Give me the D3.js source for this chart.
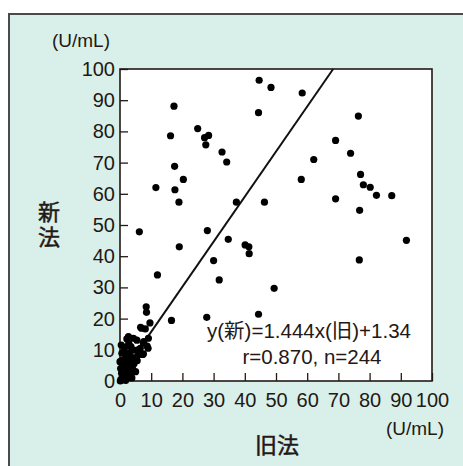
<!DOCTYPE html>
<html>
<head>
<meta charset="utf-8">
<script src="https://cdn.jsdelivr.net/npm/d3@7"></script>
<style>
  body { margin: 0; background: #fff; }
  text { font-family: "Liberation Sans", Arial, "Noto Sans CJK JP", sans-serif; fill: #231815; }
  .cjk { font-family: "Noto Sans CJK JP", sans-serif; stroke: #231815; stroke-width: 0.5; }
</style>
</head>
<body>
<script>
// Dimensions
const width = 463, height = 466;
const plot = { left: 120, top: 69, size: 312 };

// Tick labels (both axes)
const ticks = [0, 10, 20, 30, 40, 50, 60, 70, 80, 90, 100];

// Regression: y(new) = 1.444 x(old) + 1.34
const slope = 1.444, intercept = 1.34;

// Old method values (x) and new method values (y)
const oldVals = [
  17.3, 16.2, 17.5, 20.3, 11.5, 17.6, 18.9, 24.9, 27.1, 28.4, 27.5, 32.7, 34.2,
  44.6, 48.4, 58.4, 44.4, 76.4, 69.1, 73.9, 62.1, 77.1, 58.1, 78.0, 80.2, 82.2,
  87.1, 69.1, 76.8, 37.3, 46.3, 34.7, 40.1, 41.3, 41.4, 91.8, 76.7, 31.8, 49.4,
  44.4, 6.2, 28.0, 19.0, 30.0, 12.0, 8.4, 8.5, 16.5, 27.8,
  // cluster near the origin
  0.3, 0.8, 1.5, 0.5, 1.2, 2.0, 2.5, 0.2, 1.0, 2.0, 3.0, 3.5, 4.0, 0.5, 1.5,
  2.5, 3.2, 4.5, 5.0, 5.5, 0.6, 1.2, 2.2, 3.0, 4.4, 4.0, 6.0, 7.3, 6.5, 9.0,
  7.6, 5.4, 2.2, 2.8, 4.3, 2.7, 7.5, 9.1, 8.1, 6.9, 9.6, 3.5, 1.5, 0.4, 0.0,
  1.6, 0.1, 1.8, 3.8, 5.8, 6.6, 8.7, 7.5, 0.9, 2.6
];
const newVals = [
  88.1, 78.6, 68.8, 64.6, 62.0, 61.3, 57.3, 80.9, 78.0, 78.7, 75.7, 73.4, 70.2,
  96.4, 94.1, 92.3, 86.0, 84.9, 77.1, 73.0, 71.0, 66.2, 64.6, 62.9, 62.1, 59.5,
  59.4, 58.4, 54.7, 57.3, 57.3, 45.4, 43.6, 43.0, 40.8, 45.1, 38.8, 32.4, 29.7,
  21.4, 47.8, 48.2, 43.0, 38.6, 34.0, 23.8, 22.0, 19.4, 20.4,
  // cluster near the origin
  0.5, 1.2, 0.8, 2.5, 3.0, 2.0, 1.0, 4.0, 5.0, 4.5, 3.5, 2.0, 4.0, 6.5, 7.0,
  6.0, 5.5, 5.5, 3.0, 6.5, 8.9, 9.5, 8.0, 9.0, 9.9, 7.5, 8.5, 8.5, 10.5, 10.5,
  12.6, 13.1, 13.5, 12.1, 13.7, 14.2, 12.1, 13.7, 16.7, 16.9, 18.6, 11.0, 10.8, 11.5, 6.2,
  9.0, 0.0, 0.2, 1.0, 10.0, 17.2, 11.2, 8.7, 3.8, 7.8
];

const svg = d3.select("body")
      .append("svg")
      .attr("width", width)
      .attr("height", height);

// Mint panel with frame (runs off the right and bottom edges)
svg.append("rect")
    .attr("x", 9).attr("y", 14)
    .attr("width", width + 10).attr("height", height + 10)
    .attr("fill", "#d9f0ea")
    .attr("stroke", "#4a4a4a")
    .attr("stroke-width", 2);

const x = d3.scaleLinear().domain([0, 100]).range([plot.left, plot.left + plot.size]);
const y = d3.scaleLinear().domain([0, 100]).range([plot.top + plot.size, plot.top]);

// Plot area
svg.append("rect")
    .attr("x", plot.left).attr("y", plot.top)
    .attr("width", plot.size).attr("height", plot.size)
    .attr("fill", "#fff");

// Axes: inward ticks
const xAxis = svg.append("g")
    .attr("transform", `translate(0,${plot.top + plot.size})`)
    .call(d3.axisBottom(x).tickValues(ticks).tickSizeInner(-8).tickSizeOuter(0).tickPadding(12));
const yAxis = svg.append("g")
    .attr("transform", `translate(${plot.left},0)`)
    .call(d3.axisLeft(y).tickValues(ticks).tickSizeInner(-8).tickSizeOuter(0).tickPadding(5));

[xAxis, yAxis].forEach(a => {
    a.select(".domain").remove();
    a.selectAll(".tick line").attr("stroke", "#231815").attr("stroke-width", 1.3);
    a.selectAll(".tick text").attr("font-size", 20).attr("fill", "#231815")
        .attr("font-family", "'Liberation Sans', Arial, sans-serif");
});
xAxis.selectAll(".tick text").attr("dy", "0.71em");

// Plot frame
svg.append("rect")
    .attr("x", plot.left).attr("y", plot.top)
    .attr("width", plot.size).attr("height", plot.size)
    .attr("fill", "none")
    .attr("stroke", "#231815")
    .attr("stroke-width", 1.6);

// Regression line
const xEnd = (100 - intercept) / slope;
svg.append("line")
    .attr("x1", x(0)).attr("y1", y(intercept))
    .attr("x2", x(xEnd)).attr("y2", y(100))
    .attr("stroke", "#111")
    .attr("stroke-width", 2);

// Points
svg.append("g")
    .selectAll("circle")
    .data(d3.zip(oldVals, newVals))
    .enter().append("circle")
    .attr("cx", d => x(d[0]))
    .attr("cy", d => y(d[1]))
    .attr("r", 3.6)
    .attr("fill", "#000");

// Unit labels
svg.append("text").attr("x", 81).attr("y", 47)
    .attr("text-anchor", "middle").attr("font-size", 19).text("(U/mL)");
svg.append("text").attr("x", 444).attr("y", 435)
    .attr("text-anchor", "end").attr("font-size", 19).text("(U/mL)");

// Axis titles
svg.append("text").attr("class", "cjk").attr("x", 277).attr("y", 453)
    .attr("text-anchor", "middle").attr("font-size", 22).text("旧法");
svg.append("text").attr("class", "cjk")
    .attr("x", 49).attr("y", 201)
    .style("writing-mode", "vertical-rl")
    .style("letter-spacing", "3px")
    .attr("font-size", 22)
    .text("新法");

// Regression annotation
svg.append("text").attr("x", 309).attr("y", 338)
    .attr("text-anchor", "middle").attr("font-size", 20.5)
    .text("y(新)=1.444x(旧)+1.34");
svg.append("text").attr("x", 312).attr("y", 364)
    .attr("text-anchor", "middle").attr("font-size", 20.5)
    .text("r=0.870, n=244");
</script>
</body>
</html>
